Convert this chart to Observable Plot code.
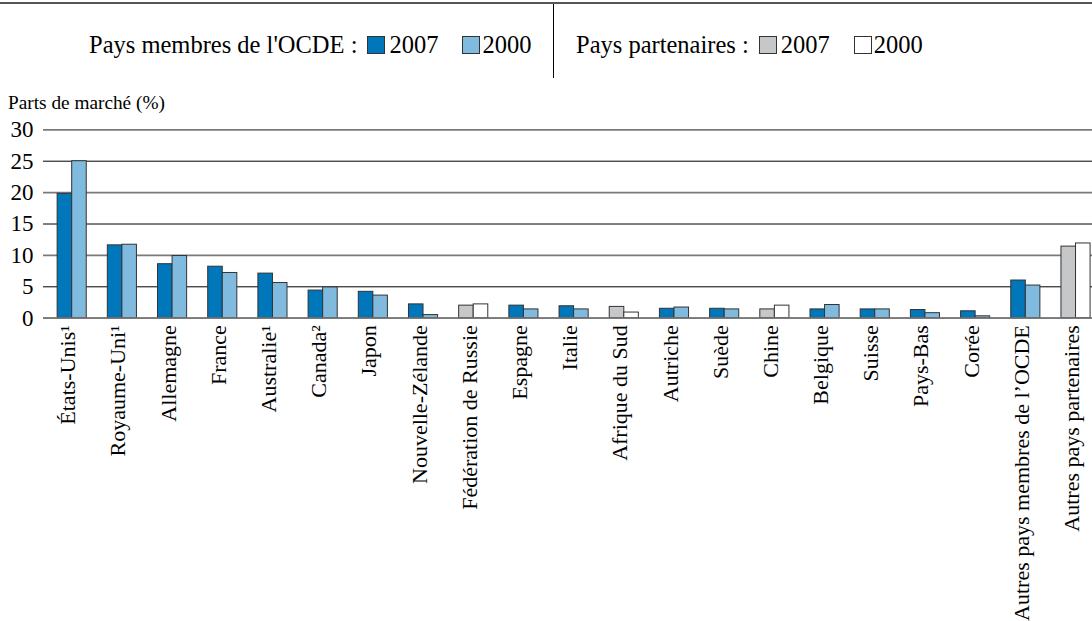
<!DOCTYPE html>
<html>
<head>
<meta charset="utf-8">
<script src="https://cdn.jsdelivr.net/npm/d3@7"></script>
<script src="https://cdn.jsdelivr.net/npm/@observablehq/plot@0.6"></script>
<style>
  html, body { margin: 0; padding: 0; background: #fff; }
  body { width: 1092px; height: 621px; position: relative; overflow: hidden; font-family: "Liberation Serif", "Times New Roman", serif; color: #000; }
  .toprule { position: absolute; left: 0; top: 2px; width: 1092px; height: 2px; background: #555; }
  .sep { position: absolute; left: 553px; top: 4px; width: 1px; height: 74px; background: #000; }
  .leg { position: absolute; top: 30px; font-size: 24.5px; line-height: 30px; white-space: nowrap; display: flex; align-items: center; }
  .sw { display: inline-block; width: 18px; height: 18px; box-sizing: border-box; border: 1.5px solid #333; margin: 0 4px 0 10px; }
  .ylab { position: absolute; left: 8px; top: 92px; font-size: 19.3px; line-height: 22px; white-space: nowrap; }
  #chart { position: absolute; left: 0; top: 88px; }
</style>
</head>
<body>
<div class="toprule"></div>
<div class="sep"></div>
<div class="leg" id="legL" style="left:89px"></div>
<div class="leg" id="legR" style="left:576px"></div>
<div class="ylab">Parts de marché (%)</div>
<div id="chart"></div>
<script>
// ---- data ----
const countries = [
  "États-Unis¹", "Royaume-Uni¹", "Allemagne", "France", "Australie¹", "Canada²",
  "Japon", "Nouvelle-Zélande", "Fédération de Russie", "Espagne", "Italie",
  "Afrique du Sud", "Autriche", "Suède", "Chine", "Belgique", "Suisse",
  "Pays-Bas", "Corée", "Autres pays membres de l’OCDE", "Autres pays partenaires"
];
const groups = [
  "ocde", "ocde", "ocde", "ocde", "ocde", "ocde",
  "ocde", "ocde", "part", "ocde", "ocde",
  "part", "ocde", "ocde", "part", "ocde", "ocde",
  "ocde", "ocde", "ocde", "part"
];
const share2007 = [19.8, 11.6, 8.6, 8.2, 7.1, 4.4, 4.2, 2.2, 2.0, 2.0, 1.9, 1.8, 1.5, 1.5, 1.4, 1.4, 1.4, 1.3, 1.1, 6.0, 11.4];
const share2000 = [25.0, 11.7, 9.9, 7.2, 5.6, 4.9, 3.6, 0.5, 2.2, 1.4, 1.4, 0.9, 1.7, 1.4, 2.0, 2.1, 1.4, 0.8, 0.3, 5.2, 11.9];
const yTicks = [0, 5, 10, 15, 20, 25, 30];
const gridGray = [0, 10, 20, 30];
const gridBlack = [5, 15, 25];
const legendLeft = { title: "Pays membres de l'OCDE :", items: [["2007", "ocde2007"], ["2000", "ocde2000"]] };
const legendRight = { title: "Pays partenaires :", items: [["2007", "part2007"], ["2000", "part2000"]] };

// ---- styles ----
const palette = { ocde2007: "#0077bb", ocde2000: "#80bbdf", part2007: "#c6c7c9", part2000: "#ffffff" };
const FONT = "Liberation Serif";

// ---- legend ----
function buildLegend(el, spec) {
  const t = document.createElement("span");
  t.textContent = spec.title;
  el.appendChild(t);
  spec.items.forEach(([label, key], i) => {
    const sw = document.createElement("span");
    sw.className = "sw";
    sw.style.background = palette[key];
    if (i > 0) { sw.style.marginLeft = "24px"; sw.style.marginRight = "2px"; }
    el.appendChild(sw);
    const l = document.createElement("span");
    l.textContent = label;
    el.appendChild(l);
  });
}
buildLegend(document.getElementById("legL"), legendLeft);
buildLegend(document.getElementById("legR"), legendRight);

// ---- chart ----
const data = countries.map((c, i) => ({ country: c, group: groups[i], v2007: share2007[i], v2000: share2000[i] }));

const W = 1092, H = 533, ML = 43, MR = 0, MT = 41.3, MB = 303.3;
const PI = 0.42, PO = 0.16, ALIGN = 0.88;
const step = (W - ML - MR) / (countries.length - PI + 2 * PO);
const bw = step * (1 - PI);
const half = bw / 2;

const plot = Plot.plot({
  width: W, height: H,
  marginLeft: ML, marginRight: MR, marginTop: MT, marginBottom: MB,
  style: { fontFamily: FONT, fontSize: "22px", color: "#000", background: "transparent" },
  x: { domain: countries, paddingInner: PI, paddingOuter: PO, align: ALIGN, round: false, label: null },
  y: { domain: [0, 30], label: null },
  color: { type: "identity" },
  marks: [
    Plot.ruleY(gridBlack, { stroke: "#000", strokeWidth: 1 }),
    Plot.ruleY(gridGray, { stroke: "#7a7a7a", strokeWidth: 1.8 }),
    Plot.barY(data, { x: "country", y: "v2007", fill: d => palette[d.group + "2007"], stroke: "#333", strokeWidth: 1, insetRight: half, insetLeft: 0 }),
    Plot.barY(data, { x: "country", y: "v2000", fill: d => palette[d.group + "2000"], stroke: "#333", strokeWidth: 1, insetLeft: half, insetRight: 0 }),
    Plot.ruleY([0], { stroke: "#7a7a7a", strokeWidth: 1.8 }),
    Plot.axisY({ ticks: yTicks, tickSize: 0, tickPadding: 10, fontSize: 23, fontFamily: FONT, label: null }),
    Plot.axisX({ tickRotate: -90, tickSize: 0, tickPadding: 7, dx: -4, fontSize: 22, fontFamily: FONT, label: null })
  ]
});
document.getElementById("chart").appendChild(plot);
</script>
</body>
</html>
